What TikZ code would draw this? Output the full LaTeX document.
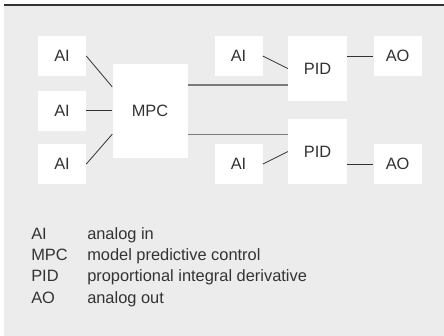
\documentclass[tikz,border=0pt]{standalone}
\usepackage{fontspec}
\setmainfont{Liberation Sans}
\usetikzlibrary{positioning,calc}

\definecolor{panel}{HTML}{ECECEC}
\definecolor{ink}{HTML}{333333}
\definecolor{busgrey}{HTML}{7A7A7A}

\tikzset{
  io/.style={fill=white, inner sep=0pt, minimum width=36pt, minimum height=30pt, text=ink},
  ctrl/.style={fill=white, inner sep=0pt, text=ink},
  wire/.style={draw=ink, line width=0.6pt},
  bus/.style={draw=busgrey, line width=1pt}
}

\begin{document}
\begin{tikzpicture}[x=0.75pt, y=-0.75pt, font=\fontsize{12.3}{16.1}\selectfont]
    \useasboundingbox (0,0) rectangle (444,336);
    \fill[panel] (4,6) rectangle (444,336);
    \draw[ink, line width=1pt] (4,5) -- (444,5);

    % inputs and MPC
    \node[io] (ai1) at (62,56) {AI};
    \node[io, below=10.5pt of ai1] (ai2) {AI};
    \node[io, below=9.75pt of ai2] (ai3) {AI};
    \node[ctrl, minimum width=56.25pt, minimum height=70.5pt, right=19.5pt of ai2] (mpc) {MPC};

    % PID loops
    \node[ctrl, minimum width=44.25pt, minimum height=48.75pt, anchor=north west] (pid1) at ([xshift=75pt]mpc.east |- ai1.north) {PID};
    \node[ctrl, minimum width=44.25pt, minimum height=48.75pt, anchor=south west] (pid2) at ([xshift=75pt]mpc.east |- ai3.south) {PID};
    \node[io, anchor=north east] (ai4) at ([xshift=-18.75pt]pid1.north west) {AI};
    \node[io, anchor=north west] (ao1) at ([xshift=19.5pt]pid1.north east) {AO};
    \node[io, anchor=south east] (ai5) at ([xshift=-18.75pt]pid2.south west) {AI};
    \node[io, anchor=south west] (ao2) at ([xshift=19.5pt]pid2.south east) {AO};

    \coordinate (m1) at ($(mpc.north west)!.25!(mpc.south west)$);
    \coordinate (m3) at ($(mpc.north west)!.75!(mpc.south west)$);
    \coordinate (p1) at ($(pid1.north west)!.75!(pid1.south west)$);
    \coordinate (m4) at ($(mpc.north east)!.75!(mpc.south east)$);

    \draw[wire] (ai1.east) -- (m1);
    \draw[wire] (ai2.east) -- (mpc.west);
    \draw[wire] (ai3.east) -- (m3);
    \draw[bus] (p1 -| mpc.east) -- (p1);
    \draw[bus] (m4) -- (m4 -| pid2.west);
    \draw[wire] (ai4.east) -- (pid1.west);
    \draw[wire] (ai5.east) -- (pid2.west);
    \draw[wire] (ao1.west -| pid1.east) -- (ao1.west);
    \draw[wire] (ao2.west -| pid2.east) -- (ao2.west);

    % legend
    \node[anchor=base west, inner sep=0pt, text=ink] (legend) at (31,239) {%
      \begin{tabular}[t]{@{}p{42pt}@{}l@{}}
        AI & analog in\\
        MPC & model predictive control\\
        PID & proportional integral derivative\\
        AO & analog out
      \end{tabular}};
\end{tikzpicture}
\end{document}
